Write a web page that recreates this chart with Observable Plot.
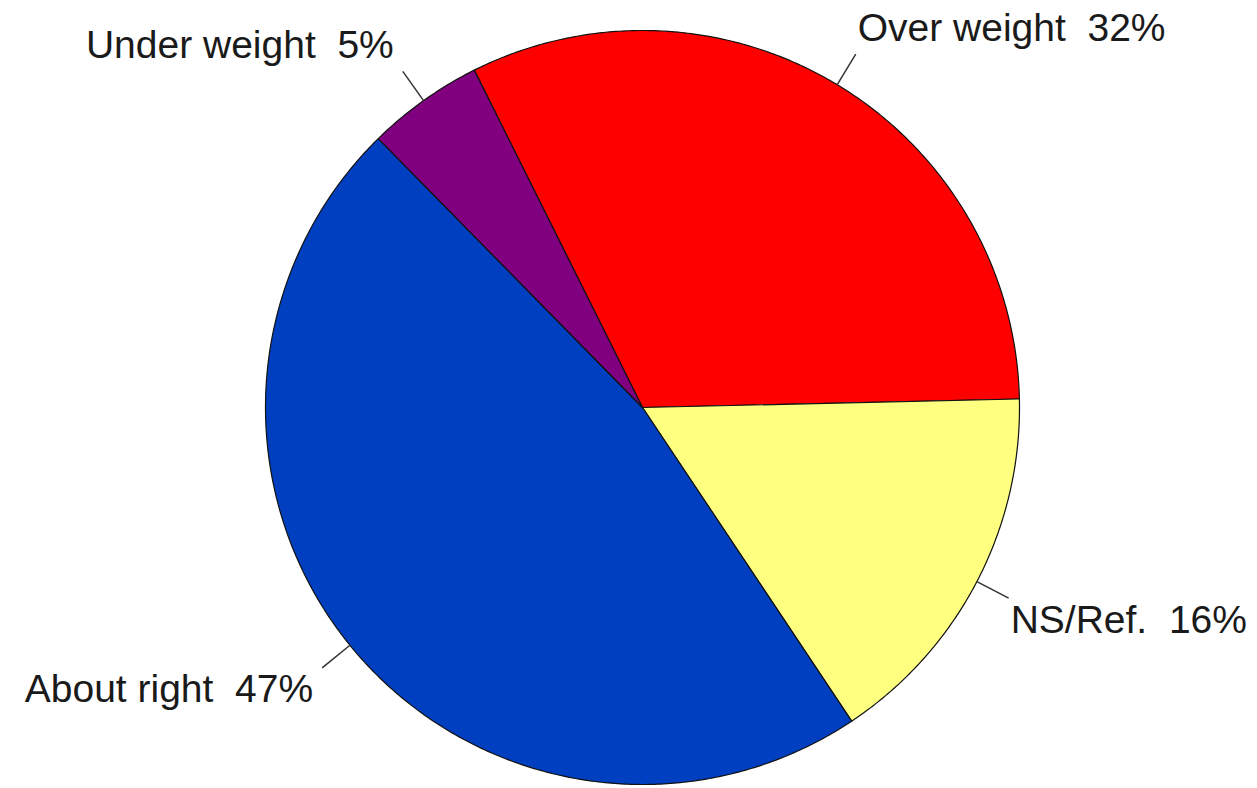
<!DOCTYPE html>
<html><head><meta charset="utf-8">
<script src="https://cdn.jsdelivr.net/npm/d3@7"></script>
<script src="https://cdn.jsdelivr.net/npm/@observablehq/plot@0.6"></script>
<style>
html,body{margin:0;padding:0;background:#fff;}
svg text{white-space:pre;}
</style></head><body><div id="chart"></div>
<script>
const categories = ["Over weight", "NS/Ref.", "About right", "Under weight"];
const values = [32, 16, 47, 5];
const colors = ["#ff0000", "#ffff80", "#0040c0", "#800080"];

const W = 1257, H = 788, cx = 642, cy = 407, R = 377;
const startDeg = -26.5;
const a0 = startDeg * Math.PI / 180;
const pie = d3.pie().sort(null).value(d => d.value).startAngle(a0).endAngle(a0 + 2 * Math.PI);
const rows = categories.map((c, i) => ({category: c, value: values[i]}));
const arcs = pie(rows);

const poly = [];
arcs.forEach(a => {
  const c = a.data.category;
  poly.push({category: c, x: 0, y: 0});
  const n = Math.max(2, Math.ceil((a.endAngle - a.startAngle) / (Math.PI / 360)));
  for (let k = 0; k <= n; k++) {
    const t = a.startAngle + (a.endAngle - a.startAngle) * k / n;
    poly.push({category: c, x: Math.sin(t), y: Math.cos(t)});
  }
  poly.push({category: c, x: 0, y: 0});
});

const leadLen = 1.095, offTop = 26 / R, offBottom = 22 / R;
const labels = arcs.map(a => {
  const m = (a.startAngle + a.endAngle) / 2;
  const sx = Math.sin(m), sy = Math.cos(m);
  return {
    category: a.data.category,
    text: `${a.data.category}  ${a.data.value}%`,
    x1: sx, y1: sy, x2: sx * leadLen, y2: sy * leadLen,
    lx: sx * leadLen, ly: sy * leadLen + (sy > 0 ? offTop : -offBottom),
    right: sx > 0
  };
});

const font = "'Liberation Sans', Arial, sans-serif";
const chart = Plot.plot({
  width: W, height: H,
  margin: 0,
  x: {domain: [-cx / R, (W - cx) / R], axis: null},
  y: {domain: [-(H - cy) / R, cy / R], axis: null},
  color: {domain: categories, range: colors},
  style: {fontFamily: font, background: "#fff"},
  marks: [
    Plot.line(poly, {x: "x", y: "y", z: "category", fill: "category", stroke: "#111", strokeWidth: 1.2, curve: "linear"}),
    Plot.link(labels, {x1: "x1", y1: "y1", x2: "x2", y2: "y2", stroke: "#333", strokeWidth: 1.5}),
    Plot.text(labels.filter(d => d.right), {x: "lx", y: "ly", text: "text", textAnchor: "start", dx: 2, fontSize: 39, fill: "#1a1a1a"}),
    Plot.text(labels.filter(d => !d.right), {x: "lx", y: "ly", text: "text", textAnchor: "end", dx: -9, fontSize: 39, fill: "#1a1a1a"})
  ]
});
document.getElementById("chart").appendChild(chart);
</script></body></html>
